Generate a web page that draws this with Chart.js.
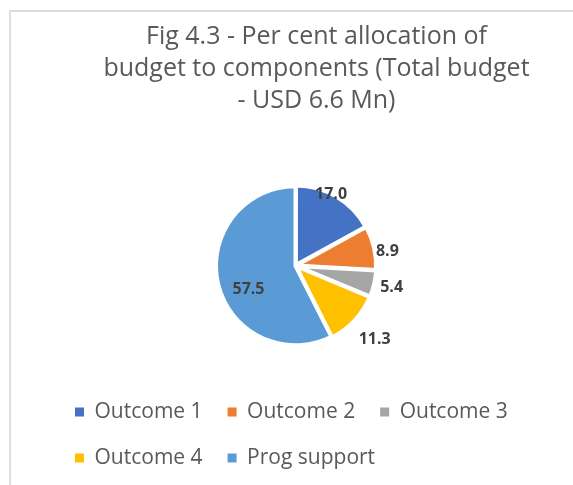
<!DOCTYPE html>
<html>
<head>
<meta charset="utf-8">
<script src="https://cdn.jsdelivr.net/npm/chart.js@4.4.1/dist/chart.umd.min.js"></script>
<style>
  body { margin: 0; background: #fff; overflow: hidden; }
  #wrap { position: relative; width: 573px; height: 485px; }
  #frame { position: absolute; left: 9px; top: 10px; width: 700px; height: 700px;
           border-top: 2px solid #dedede; border-left: 2px solid #dedede; }
  canvas { position: absolute; left: 0; top: 0; }
</style>
</head>
<body>
<div id="wrap">
  <div id="frame"></div>
  <canvas id="grafico"></canvas>
</div>
<script>
const componentes = ['Outcome 1', 'Outcome 2', 'Outcome 3', 'Outcome 4', 'Prog support'];
const porcentajes = [17.0, 8.9, 5.4, 11.3, 57.5];
const colores = ['#4472C4', '#ED7D31', '#A5A5A5', '#FFC000', '#5B9BD5'];
const titulo = ['Fig 4.3 - Per cent allocation of', 'budget to components (Total budget', '- USD 6.6 Mn)'];

// where each value label sits: fraction of radius and small turn in degrees
const distEtiqueta = [1.0, 1.17, 1.24, 1.36, 0.66];
const giroEtiqueta = [-4, 4, 0, 0, -13];

const etiquetas = {
  id: 'etiquetas',
  afterDatasetsDraw(chart) {
    const ctx = chart.ctx;
    const meta = chart.getDatasetMeta(0);
    ctx.save();
    ctx.font = 'bold 16px "Open Sans"';
    ctx.fillStyle = '#404040';
    ctx.textAlign = 'center';
    ctx.textBaseline = 'middle';
    meta.data.forEach((arc, i) => {
      const p = arc.getProps(['x', 'y', 'startAngle', 'endAngle', 'outerRadius'], true);
      const a = (p.startAngle + p.endAngle) / 2 + giroEtiqueta[i] * Math.PI / 180;
      const r = p.outerRadius * distEtiqueta[i];
      ctx.fillText(porcentajes[i].toFixed(1), p.x + Math.cos(a) * r, p.y + Math.sin(a) * r);
    });
    ctx.restore();
  }
};

// title in the original sits a bit right of the pie centre
const moverTitulo = {
  id: 'moverTitulo',
  afterLayout(chart) {
    chart.titleBlock.left += 21;
    chart.titleBlock.right += 21;
  }
};

new Chart(document.getElementById('grafico'), {
  type: 'pie',
  data: {
    labels: componentes,
    datasets: [{
      data: porcentajes,
      backgroundColor: colores,
      borderColor: '#ffffff',
      borderWidth: 4,
      offset: [3, 3, 3, 3, 0],
      radius: 79.5
    }]
  },
  options: {
    responsive: true,
    maintainAspectRatio: false,
    animation: false,
    layout: { padding: { left: 50, right: 32, top: 0, bottom: 6.5 } },
    plugins: {
      title: {
        display: true,
        text: titulo,
        color: '#595959',
        font: { family: 'Open Sans', size: 25, weight: 'normal', lineHeight: '32px' },
        padding: { top: 21, bottom: 38 }
      },
      legend: {
        position: 'bottom',
        align: 'start',
        labels: {
          color: '#595959',
          font: { family: 'Open Sans', size: 21 },
          boxWidth: 9,
          boxHeight: 9,
          padding: 25,
          generateLabels(chart) {
            const items = Chart.controllers.pie.overrides.plugins.legend.labels.generateLabels(chart);
            items.forEach(it => { it.lineWidth = 0; });
            return items;
          }
        }
      },
      tooltip: { enabled: false }
    }
  },
  plugins: [etiquetas, moverTitulo]
});
</script>
</body>
</html>
